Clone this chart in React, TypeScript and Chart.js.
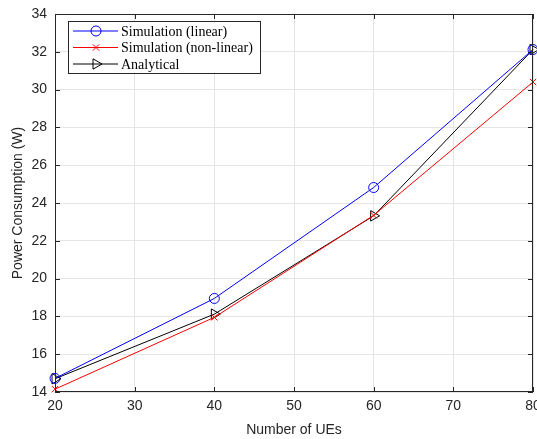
import React, { useEffect, useRef } from "react";
import { Chart, registerables } from "chart.js";
import { drawPoint } from "chart.js/helpers";
Chart.register(...registerables);

const categories = [20, 40, 60, 80];
const linearSim = [14.72, 18.95, 24.82, 32.12];
const nonLinearSim = [14.15, 17.95, 23.35, 30.4];
const analytical = [14.7, 18.12, 23.32, 32.12];
const seriesNames = ["Simulation (linear)", "Simulation (non-linear)", "Analytical"];
const xTicks = [20, 30, 40, 50, 60, 70, 80];
const yTicks = [14, 16, 18, 20, 22, 24, 26, 28, 30, 32, 34];

const framePlugin = {
  id: "frame",
  afterDraw(chart: any) {
    const { ctx, chartArea: a, scales } = chart;
    ctx.save();
    ctx.strokeStyle = "#262626";
    ctx.lineWidth = 1;
    ctx.strokeRect(a.left + 0.5, a.top + 0.5, a.right - a.left - 1, a.bottom - a.top - 1);
    const tl = 5;
    ctx.beginPath();
    xTicks.forEach((v) => {
      const x = Math.round(scales.x.getPixelForValue(v)) + 0.5;
      ctx.moveTo(x, a.bottom);
      ctx.lineTo(x, a.bottom - tl);
      ctx.moveTo(x, a.top);
      ctx.lineTo(x, a.top + tl);
    });
    yTicks.forEach((v) => {
      const y = Math.round(scales.y.getPixelForValue(v)) + 0.5;
      ctx.moveTo(a.left, y);
      ctx.lineTo(a.left + tl, y);
      ctx.moveTo(a.right, y);
      ctx.lineTo(a.right - tl, y);
    });
    ctx.stroke();

    // legend
    const lx = 68, ly = 21, lw = 192, lh = 52;
    ctx.fillStyle = "#ffffff";
    ctx.fillRect(lx, ly, lw, lh);
    ctx.strokeStyle = "#262626";
    ctx.strokeRect(lx + 0.5, ly + 0.5, lw, lh);
    ctx.font = "14px 'Liberation Serif'";
    ctx.textBaseline = "middle";
    chart.data.datasets.forEach((ds: any, i: number) => {
      const y = ly + 10 + i * 16.5;
      ctx.strokeStyle = ds.borderColor;
      ctx.lineWidth = 1;
      ctx.beginPath();
      ctx.moveTo(lx + 5, y);
      ctx.lineTo(lx + 50, y);
      ctx.stroke();
      ctx.fillStyle = "rgba(0,0,0,0)";
      drawPoint(ctx, {
        pointStyle: ds.pointStyle,
        radius: ds.pointRadius,
        rotation: ds.pointRotation || 0,
        borderWidth: 1,
      }, lx + 28, y);
      ctx.fillStyle = "#000";
      ctx.fillText(ds.label, lx + 53, y + 1);
    });
    ctx.restore();
  },
};

export default function App() {
  const ref = useRef<HTMLCanvasElement>(null);
  useEffect(() => {
    const mk = (label: string, data: number[], color: string, style: string, r: number, rot = 0) => ({
      label,
      data: categories.map((c, i) => ({ x: c, y: data[i] })),
      borderColor: color,
      backgroundColor: "rgba(0,0,0,0)",
      pointBorderColor: color,
      pointBackgroundColor: "rgba(0,0,0,0)",
      borderWidth: 1,
      pointStyle: style,
      pointRadius: r,
      pointRotation: rot,
      pointBorderWidth: 1,
      tension: 0,
      clip: false,
    });
    const chart = new Chart(ref.current!, {
      type: "line",
      data: {
        datasets: [
          mk(seriesNames[0], linearSim, "#0000ff", "circle", 5),
          mk(seriesNames[1], nonLinearSim, "#ff0000", "crossRot", 4.5),
          mk(seriesNames[2], analytical, "#000000", "triangle", 6, 90),
        ],
      },
      options: {
        animation: false,
        responsive: false,
        events: [],
        layout: { padding: { top: 14, right: 1, left: 10, bottom: 0 } },
        plugins: { legend: { display: false }, tooltip: { enabled: false } },
        scales: {
          x: {
            type: "linear",
            min: 20,
            max: 80,
            afterBuildTicks: (s: any) => { s.ticks = xTicks.map((v) => ({ value: v })); },
            afterFit: (s: any) => { s.height = 47; s.paddingLeft = 0; s.paddingRight = 0; },
            grid: { color: "#e5e5e5", drawTicks: false },
            border: { display: false },
            ticks: { color: "#262626", font: { family: "'Liberation Sans'", size: 14 }, padding: 6, maxRotation: 0 },
            title: { display: true, text: "Number of UEs", color: "#262626", font: { family: "'Liberation Sans'", size: 14 }, padding: { top: 0, bottom: 0 } },
          },
          y: {
            min: 14,
            max: 34,
            afterBuildTicks: (s: any) => { s.ticks = yTicks.map((v) => ({ value: v })); },
            afterFit: (s: any) => { s.width = 45; s.paddingTop = 0; s.paddingBottom = 0; },
            grid: { color: "#e5e5e5", drawTicks: false },
            border: { display: false },
            ticks: { color: "#262626", font: { family: "'Liberation Sans'", size: 14 }, padding: 8 },
            title: { display: true, text: "Power Consumption (W)", color: "#262626", font: { family: "'Liberation Sans'", size: 14 }, padding: { top: 0, bottom: 2 } },
          },
        },
      },
      plugins: [framePlugin],
    });
    return () => chart.destroy();
  }, []);
  return (
    <div style={{ position: "fixed", left: 0, top: 0, width: 537, height: 439, background: "#fff", overflow: "hidden" }}>
      <canvas ref={ref} width={540} height={439} />
    </div>
  );
}
